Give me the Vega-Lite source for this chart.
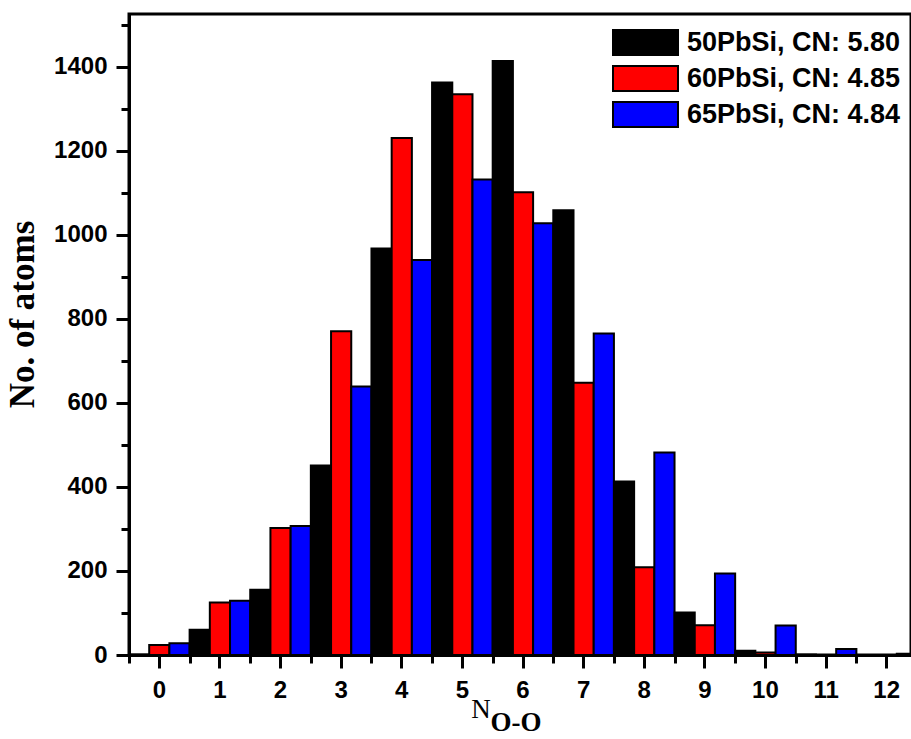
{
  "$schema": "https://vega.github.io/schema/vega-lite/v6.json",
  "width": 782,
  "height": 641,
  "autosize": {"type": "none"},
  "padding": {"left": 129, "top": 14, "right": 0, "bottom": 84},
  "background": "white",
  "config": {"view": {"stroke": "black", "strokeWidth": 3}, "font": "Liberation Sans"},
  "data": {"values": [
    {"n": 0, "sample": "50PbSi, CN: 5.80", "count": 1},
    {"n": 0, "sample": "60PbSi, CN: 4.85", "count": 24},
    {"n": 0, "sample": "65PbSi, CN: 4.84", "count": 28},
    {"n": 1, "sample": "50PbSi, CN: 5.80", "count": 60},
    {"n": 1, "sample": "60PbSi, CN: 4.85", "count": 125},
    {"n": 1, "sample": "65PbSi, CN: 4.84", "count": 129},
    {"n": 2, "sample": "50PbSi, CN: 5.80", "count": 155},
    {"n": 2, "sample": "60PbSi, CN: 4.85", "count": 302},
    {"n": 2, "sample": "65PbSi, CN: 4.84", "count": 307},
    {"n": 3, "sample": "50PbSi, CN: 5.80", "count": 451},
    {"n": 3, "sample": "60PbSi, CN: 4.85", "count": 770},
    {"n": 3, "sample": "65PbSi, CN: 4.84", "count": 639},
    {"n": 4, "sample": "50PbSi, CN: 5.80", "count": 967},
    {"n": 4, "sample": "60PbSi, CN: 4.85", "count": 1230},
    {"n": 4, "sample": "65PbSi, CN: 4.84", "count": 940},
    {"n": 5, "sample": "50PbSi, CN: 5.80", "count": 1362},
    {"n": 5, "sample": "60PbSi, CN: 4.85", "count": 1334},
    {"n": 5, "sample": "65PbSi, CN: 4.84", "count": 1131},
    {"n": 6, "sample": "50PbSi, CN: 5.80", "count": 1413},
    {"n": 6, "sample": "60PbSi, CN: 4.85", "count": 1101},
    {"n": 6, "sample": "65PbSi, CN: 4.84", "count": 1027},
    {"n": 7, "sample": "50PbSi, CN: 5.80", "count": 1058},
    {"n": 7, "sample": "60PbSi, CN: 4.85", "count": 648},
    {"n": 7, "sample": "65PbSi, CN: 4.84", "count": 765},
    {"n": 8, "sample": "50PbSi, CN: 5.80", "count": 413},
    {"n": 8, "sample": "60PbSi, CN: 4.85", "count": 209},
    {"n": 8, "sample": "65PbSi, CN: 4.84", "count": 482},
    {"n": 9, "sample": "50PbSi, CN: 5.80", "count": 101},
    {"n": 9, "sample": "60PbSi, CN: 4.85", "count": 71},
    {"n": 9, "sample": "65PbSi, CN: 4.84", "count": 194},
    {"n": 10, "sample": "50PbSi, CN: 5.80", "count": 10},
    {"n": 10, "sample": "60PbSi, CN: 4.85", "count": 6},
    {"n": 10, "sample": "65PbSi, CN: 4.84", "count": 70},
    {"n": 11, "sample": "50PbSi, CN: 5.80", "count": 1},
    {"n": 11, "sample": "60PbSi, CN: 4.85", "count": 0},
    {"n": 11, "sample": "65PbSi, CN: 4.84", "count": 14},
    {"n": 12, "sample": "50PbSi, CN: 5.80", "count": 0},
    {"n": 12, "sample": "60PbSi, CN: 4.85", "count": 0},
    {"n": 12, "sample": "65PbSi, CN: 4.84", "count": 3}
  ]},
  "layer": [
    {
      "mark": {"type": "bar", "stroke": "black", "strokeWidth": 2, "strokeJoin": "miter"},
      "encoding": {
        "x": {
          "field": "n", "type": "ordinal",
          "scale": {"paddingInner": 0, "paddingOuter": 0, "range": [0, 788]},
          "axis": {
            "orient": "bottom", "labelAngle": 0, "tickSize": 13, "tickWidth": 3, "tickColor": "black",
            "domainWidth": 3, "domainColor": "black",
            "labelFont": "Liberation Sans", "labelFontWeight": "bold", "labelFontSize": 24, "labelColor": "black",
            "labelPadding": 10,
            "title": "N", "titleFont": "Liberation Serif", "titleFontWeight": "normal", "titleFontSize": 27,
            "titleColor": "black", "titleX": 351.5, "titleY": 62, "titleAlign": "center", "titleBaseline": "alphabetic",
            "grid": false
          }
        },
        "xOffset": {"field": "sample", "type": "nominal", "scale": {"paddingInner": 0, "paddingOuter": 0}},
        "y": {
          "field": "count", "type": "quantitative",
          "scale": {"domain": [0, 1525], "nice": false},
          "axis": {
            "values": [0, 100, 200, 300, 400, 500, 600, 700, 800, 900, 1000, 1100, 1200, 1300, 1400, 1500],
            "format": "d",
            "labelExpr": "datum.value % 200 === 0 ? datum.label : ''",
            "tickSize": {"condition": {"test": "datum.value % 200 === 0", "value": 13}, "value": 8},
            "tickWidth": 3, "tickColor": "black", "domainWidth": 3, "domainColor": "black",
            "labelFont": "Liberation Sans", "labelFontWeight": "bold", "labelFontSize": 24, "labelColor": "black",
            "labelPadding": 9, "labelOverlap": false, "labelFlush": false,
            "title": "No. of atoms", "titleFont": "Liberation Serif", "titleFontWeight": "bold", "titleFontSize": 35,
            "titleColor": "black", "titleX": -96, "titleY": 300, "titleAngle": -90, "titleAlign": "center",
            "titleBaseline": "alphabetic", "grid": false
          }
        },
        "color": {
          "field": "sample", "type": "nominal",
          "scale": {"range": ["#000000", "#ff0000", "#0000ff"]},
          "legend": {
            "orient": "none", "legendX": 483, "legendY": 15, "title": null, "padding": 0,
            "symbolType": "M-1,-0.385H1V0.385H-1Z", "symbolSize": 4225,
            "symbolStrokeColor": "black", "symbolStrokeWidth": 2, "symbolOpacity": 1,
            "labelFont": "Liberation Sans", "labelFontWeight": "bold", "labelFontSize": 27, "labelColor": "black",
            "labelOffset": 8, "labelLimit": 0, "rowPadding": 8, "clipHeight": 27
          }
        }
      }
    },
    {
      "mark": {"type": "bar", "opacity": 0},
      "encoding": {
        "x": {
          "field": "n", "type": "ordinal",
          "axis": {
            "orient": "bottom", "tickBand": "extent", "labels": false, "domain": false,
            "tickSize": 8, "tickWidth": 3, "tickColor": "black",
            "title": "O-O", "titleFont": "Liberation Serif", "titleFontWeight": "bold", "titleFontSize": 27,
            "titleColor": "black", "titleX": 361, "titleY": 75, "titleAlign": "left", "titleBaseline": "alphabetic",
            "grid": false
          }
        }
      }
    }
  ],
  "resolve": {"axis": {"x": "independent"}}
}
